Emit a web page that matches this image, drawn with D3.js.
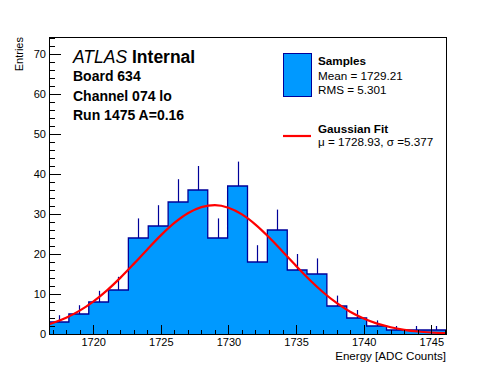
<!DOCTYPE html>
<html><head><meta charset="utf-8">
<script src="https://cdn.jsdelivr.net/npm/d3@7"></script>
<style>
body{margin:0;background:#fff}
svg{display:block;font-family:"Liberation Sans",Arial,Helvetica,sans-serif}
</style>
</head><body><svg id="c" width="496" height="372"></svg>
<script>
// ---- data ----
const binEdges = [1716.73,1718.20,1719.67,1721.13,1722.60,1724.07,1725.54,1727.01,1728.47,1729.94,1731.41,1732.88,1734.35,1735.81,1737.28,1738.75,1740.22,1741.69,1743.15,1744.62,1746.09];
const counts   = [3,5,8,11,24,27,33,36,24,37,18,26,16,15,7,4,2,1,1,1];
const errors   = [1.7,2.2,2.8,3.3,4.9,5.2,5.7,6.0,4.9,6.1,4.2,5.1,4.0,3.9,2.6,2.0,1.4,1.0,1.0,1.0];
const fitX = [1716.73,1717,1718,1719,1720,1721,1722,1723,1724,1725,1726,1727,1728,1729,1730,1731,1732,1733,1734,1735,1736,1737,1738,1739,1740,1741,1742,1743,1744,1745,1746,1746.09];
const fitY = [2.45,2.75,4.08,5.85,8.11,10.85,14.03,17.53,21.15,24.65,27.76,30.19,31.72,32.20,31.57,29.90,27.36,24.18,20.64,17.03,13.57,10.44,7.76,5.57,3.87,2.59,1.68,1.05,0.63,0.37,0.21,0.20];
const yMajorTicks = [0,10,20,30,40,50,60,70];
const yMinorTicks = [0,2,4,6,8,10,12,14,16,18,20,22,24,26,28,30,32,34,36,38,40,42,44,46,48,50,52,54,56,58,60,62,64,66,68,70,72,74];
const xMajorTicks = [1720,1725,1730,1735,1740,1745];
const xMinorTicks = [1717,1718,1719,1720,1721,1722,1723,1724,1725,1726,1727,1728,1729,1730,1731,1732,1733,1734,1735,1736,1737,1738,1739,1740,1741,1742,1743,1744,1745,1746];
const infoLines = ["Board 634","Channel 074 lo","Run 1475 A=0.16"];
const legendSamples = ["Samples","Mean = 1729.21","RMS = 5.301"];
const legendFit = ["Gaussian Fit","\u03bc = 1728.93, \u03c3 =5.377"];

// ---- layout ----
const L=49, R=446, T=37, B=334;
const fillC="#0099ff", lineC="#000099";
const svg=d3.select("#c");
const x=d3.scaleLinear().domain([1716.73,1746.09]).range([L,R]);
const y=d3.scaleLinear().domain([0,74.25]).range([B,T]);

const defs=svg.append("defs");
defs.append("clipPath").attr("id","fr").append("rect").attr("x",L).attr("y",T).attr("width",R-L).attr("height",B-T);

const plot=svg.append("g").attr("clip-path","url(#fr)");
// step points
const pts=[[binEdges[0],0]];
counts.forEach((c,i)=>pts.push([binEdges[i],c]));
pts.push([binEdges[counts.length],counts[counts.length-1]]);
pts.push([binEdges[counts.length],0]);
const stepLine=d3.line().x(d=>x(d[0])).y(d=>y(d[1])).curve(d3.curveStepAfter);
// fill as one area
plot.append("path").datum(pts)
  .attr("d",d3.area().x(d=>x(d[0])).y0(y(0)).y1(d=>y(d[1])).curve(d3.curveStepAfter))
  .attr("fill",fillC).attr("stroke","none");
// outline
plot.append("path").datum(pts).attr("d",stepLine)
  .attr("fill","none").attr("stroke",lineC).attr("stroke-width",1.3);
// error bars (upper part)
plot.selectAll("line.err").data(counts).join("line").attr("class","err")
  .attr("x1",(d,i)=>Math.round(x((binEdges[i]+binEdges[i+1])/2))+0.5)
  .attr("x2",(d,i)=>Math.round(x((binEdges[i]+binEdges[i+1])/2))+0.5)
  .attr("y1",d=>y(d)).attr("y2",(d,i)=>y(d+errors[i]))
  .attr("stroke",lineC).attr("stroke-width",1.2);
// fit
plot.append("path").datum(fitX.map((v,i)=>[v,fitY[i]]))
  .attr("d",d3.line().x(d=>x(d[0])).y(d=>y(d[1])).curve(d3.curveMonotoneX))
  .attr("fill","none").attr("stroke","#ff0000").attr("stroke-width",2.2);

// axes
function styleAxis(g){g.select(".domain").remove();g.selectAll("line").attr("stroke","#000").attr("shape-rendering","crispEdges");}
const lab=g=>g.selectAll("text").attr("font-size",11).attr("fill","#000").attr("font-family","Liberation Sans, Arial, sans-serif");
svg.append("g").attr("transform",`translate(${L},0)`)
  .call(d3.axisLeft(y).tickValues(yMinorTicks).tickSize(-6).tickFormat("")).call(styleAxis);
svg.append("g").attr("transform",`translate(${L},0)`)
  .call(d3.axisLeft(y).tickValues(yMajorTicks).tickSize(-12).tickPadding(3).tickFormat(d3.format("d")))
  .call(styleAxis).call(lab);
svg.append("g").attr("transform",`translate(0,${B})`)
  .call(d3.axisBottom(x).tickValues(xMinorTicks).tickSize(-4.5).tickFormat("")).call(styleAxis);
svg.append("g").attr("transform",`translate(0,${B})`)
  .call(d3.axisBottom(x).tickValues(xMajorTicks).tickSize(-9).tickPadding(4.5).tickFormat(d3.format("d")))
  .call(styleAxis).call(lab);

// frame
svg.append("rect").attr("x",L+0.5).attr("y",T+0.5).attr("width",R-L).attr("height",B-T)
  .attr("fill","none").attr("stroke","#000").attr("stroke-width",1);

// axis titles
svg.append("text").attr("x",R).attr("y",359.5).attr("text-anchor","end").attr("font-size",11.6).text("Energy [ADC Counts]");
svg.append("text").attr("transform","translate(23,37) rotate(-90)").attr("text-anchor","end").attr("font-size",11).text("Entries");

// ATLAS label
const at=svg.append("text").attr("x",73).attr("y",63).attr("font-size",17.5);
at.append("tspan").attr("font-style","italic").text("ATLAS");
at.append("tspan").attr("font-weight","bold").text(" Internal");
svg.selectAll("text.info").data(infoLines).join("text").attr("class","info")
  .attr("x",73).attr("y",(d,i)=>[81,101,119.5][i]).attr("font-size",14).attr("font-weight","bold").text(d=>d);

// legend
svg.append("rect").attr("x",283.5).attr("y",53.5).attr("width",28).attr("height",43)
  .attr("fill",fillC).attr("stroke",lineC).attr("stroke-width",1);
svg.selectAll("text.ls").data(legendSamples).join("text").attr("class","ls")
  .attr("x",318).attr("y",(d,i)=>[65,80,94][i]).attr("font-size",11.7)
  .attr("font-weight",(d,i)=>i===0?"bold":"normal").text(d=>d);
svg.append("line").attr("x1",283).attr("x2",311).attr("y1",136).attr("y2",136).attr("stroke","#ff0000").attr("stroke-width",2.2);
svg.selectAll("text.lf").data(legendFit).join("text").attr("class","lf")
  .attr("x",318).attr("y",(d,i)=>[132.5,145.5][i]).attr("font-size",11.7)
  .attr("font-weight",(d,i)=>i===0?"bold":"normal").text(d=>d);
</script>
</body></html>
